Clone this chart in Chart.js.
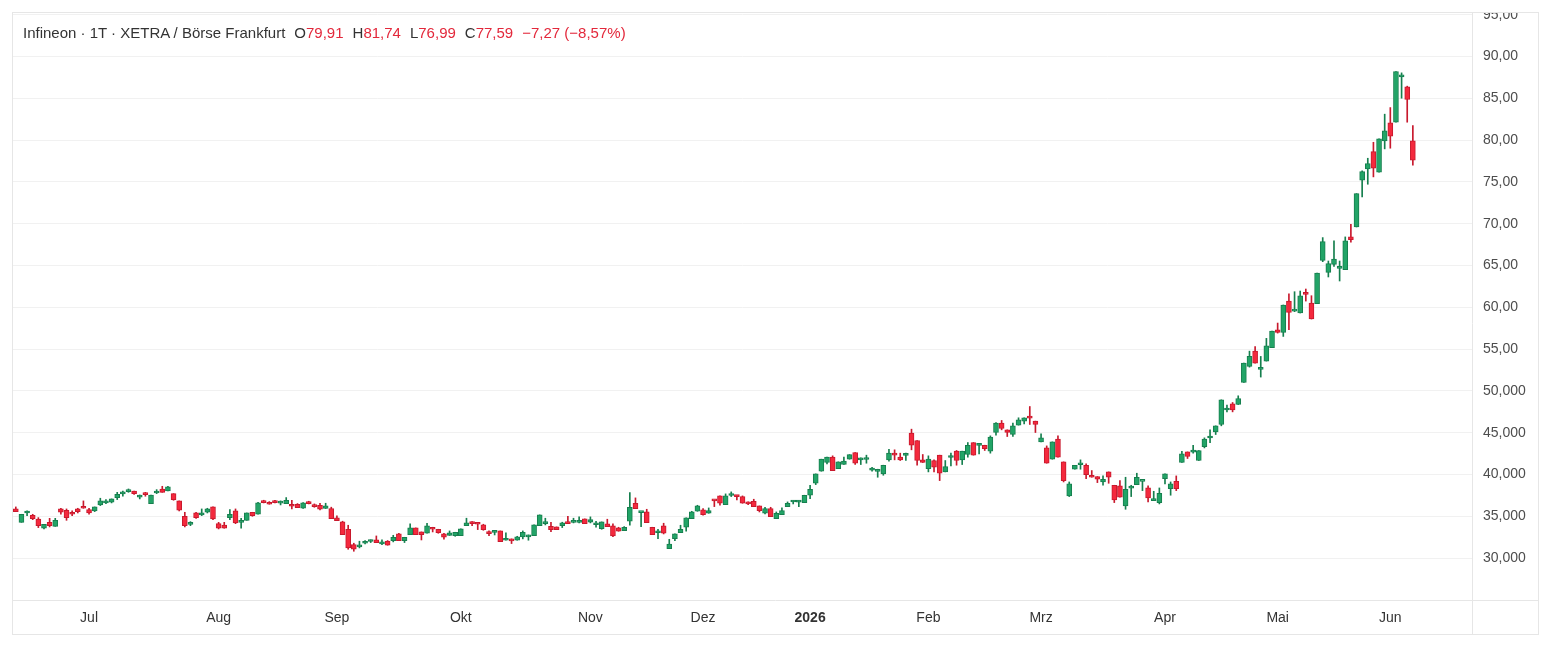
<!DOCTYPE html>
<html lang="de">
<head>
<meta charset="utf-8">
<title>Infineon · 1T · XETRA</title>
<script src="https://cdn.jsdelivr.net/npm/chart.js@4.4.1/dist/chart.umd.min.js"></script>
<style>
    html, body { margin: 0; padding: 0; background: #fff; }
    #frame {
        position: absolute; left: 12px; top: 12px;
        width: 1525px; height: 621px;
        border: 1px solid #e6e6e6;
    }
    #frame canvas { display: block; }
    #legend {
        position: absolute; left: 23px; top: 24px;
        font: 15px "Liberation Sans", Arial, sans-serif;
        color: #333; white-space: nowrap; line-height: 18px;
    }
    #legend .v { color: #e3283b; }
    #legend .g { margin-left: 9px; }
</style>
</head>
<body>
<div id="frame"><canvas id="chart" width="1525" height="621"></canvas></div>
<div id="legend">Infineon · 1T · XETRA / Börse Frankfurt<span class="g">O<span class="v">79,91</span></span><span class="g">H<span class="v">81,74</span></span><span class="g">L<span class="v">76,99</span></span><span class="g">C<span class="v">77,59</span></span><span class="g v">−7,27 (−8,57%)</span></div>
<script>
// trading calendar (Xetra), first and last session shown
const startDate = '2025-06-12';
const endDate = '2026-06-05';
const holidays = ['2025-12-24', '2025-12-25', '2025-12-26', '2025-12-31', '2026-01-01', '2026-04-03', '2026-04-06', '2026-05-01'];
const monthNames = ['2026', 'Feb', 'Mrz', 'Apr', 'Mai', 'Jun', 'Jul', 'Aug', 'Sep', 'Okt', 'Nov', 'Dez'];
const emptySlots = 10; // free space right of the last candle

// daily OHLC
const opens = [
    35.89, 34.29, 35.40, 35.13, 34.69, 33.58, 34.29, 33.81, 35.89, 35.73,
    35.49, 35.89, 36.21, 35.81, 35.65, 36.37, 36.61, 36.69, 37.25, 37.70,
    37.96, 38.04, 37.30, 37.64, 36.53, 37.80, 38.28, 38.04, 37.72, 36.85,
    35.01, 34.05, 35.41, 35.17, 35.49, 36.13, 34.13, 33.97, 34.85, 35.65,
    34.29, 34.53, 35.49, 35.25, 36.69, 36.69, 36.69, 36.58, 36.53, 36.45,
    36.45, 35.97, 36.57, 36.41, 36.33, 35.94, 35.94, 34.82, 34.34, 33.46,
    31.63, 31.35, 31.79, 32.00, 32.19, 31.71, 32.03, 32.11, 32.90, 32.11,
    32.82, 33.62, 33.14, 32.98, 33.70, 33.46, 32.90, 32.72, 32.70, 32.70,
    33.90, 34.16, 34.08, 33.98, 32.95, 33.08, 33.26, 32.15, 32.08, 32.15,
    32.55, 32.55, 32.70, 33.90, 34.14, 33.82, 33.74, 33.90, 34.14, 34.28,
    34.28, 34.70, 34.30, 34.00, 33.54, 34.10, 33.86, 33.62, 33.30, 34.42,
    36.57, 35.44, 35.53, 33.70, 33.04, 33.86, 31.14, 32.34, 33.06, 33.70,
    34.74, 35.61, 35.77, 35.37, 36.89, 37.45, 36.41, 37.50, 37.39, 37.37,
    36.50, 36.81, 36.25, 35.37, 35.93, 34.73, 35.21, 36.17, 36.72, 36.71,
    36.65, 37.53, 38.96, 40.40, 41.44, 42.08, 40.72, 41.20, 41.84, 42.63,
    41.75, 41.80, 40.54, 40.38, 40.08, 41.76, 42.34, 42.08, 42.30, 44.95,
    44.07, 41.76, 40.72, 41.68, 42.32, 40.32, 42.04, 42.80, 41.76, 42.40,
    43.83, 43.49, 43.51, 42.80, 45.03, 46.15, 45.35, 44.79, 45.91, 46.39,
    46.79, 46.39, 43.91, 43.19, 41.84, 44.23, 41.52, 37.45, 40.64, 41.18,
    41.12, 39.92, 39.76, 39.12, 40.32, 38.72, 38.64, 36.25, 38.38, 38.80,
    39.18, 38.40, 36.89, 36.65, 39.52, 38.32, 39.20, 41.44, 42.71, 42.69,
    41.68, 43.35, 44.37, 45.11, 45.99, 47.72, 48.46, 48.38, 51.01, 52.93,
    54.76, 52.59, 53.57, 55.17, 57.32, 57.00, 60.75, 59.55, 59.32, 61.79,
    60.51, 60.43, 65.62, 64.19, 65.14, 64.65, 64.51, 68.42, 69.61, 75.20,
    76.55, 78.63, 76.15, 79.90, 82.06, 82.14, 87.57, 86.37, 79.91
];
const highs = [
    36.13, 35.25, 35.65, 35.25, 34.85, 34.05, 34.77, 34.77, 35.97, 35.89,
    35.65, 35.97, 36.85, 35.97, 36.13, 37.17, 37.01, 37.09, 37.88, 38.04,
    38.28, 38.04, 37.56, 37.88, 37.56, 38.20, 38.60, 38.60, 37.72, 36.85,
    35.49, 34.37, 35.49, 35.89, 35.97, 36.13, 34.29, 34.29, 35.81, 35.89,
    34.77, 35.41, 35.49, 36.69, 36.93, 36.77, 36.93, 36.85, 37.25, 36.93,
    36.53, 36.65, 36.81, 36.49, 36.57, 36.57, 36.10, 35.06, 34.42, 33.94,
    31.79, 32.03, 32.11, 32.19, 32.66, 32.19, 32.11, 32.74, 32.98, 32.50,
    34.10, 33.62, 33.14, 34.18, 33.70, 33.46, 32.98, 33.26, 33.10, 33.50,
    34.78, 34.38, 34.14, 34.06, 33.26, 33.26, 33.26, 33.02, 32.31, 32.62,
    33.26, 32.78, 33.98, 35.18, 34.78, 34.30, 33.74, 34.30, 35.02, 34.78,
    34.94, 34.70, 34.94, 34.42, 34.34, 34.66, 34.10, 33.70, 33.78, 37.85,
    37.21, 35.45, 35.85, 33.70, 33.46, 34.18, 32.26, 32.90, 33.94, 34.82,
    35.61, 36.33, 35.93, 36.01, 36.97, 37.45, 37.69, 37.93, 37.53, 37.45,
    36.73, 37.05, 36.25, 36.09, 36.09, 35.53, 36.01, 36.73, 36.89, 36.89,
    37.53, 38.72, 40.08, 41.84, 42.08, 42.24, 41.52, 42.08, 42.39, 42.63,
    42.00, 42.32, 40.88, 40.64, 41.12, 43.03, 42.96, 42.56, 42.56, 45.43,
    44.07, 42.40, 42.24, 41.76, 42.32, 41.68, 42.56, 42.88, 42.80, 43.83,
    43.83, 43.67, 43.51, 44.63, 46.23, 46.47, 45.35, 46.15, 46.79, 46.79,
    48.14, 46.39, 44.87, 43.43, 43.91, 44.63, 41.52, 39.12, 41.12, 41.76,
    41.28, 40.48, 39.76, 39.84, 40.32, 38.72, 39.28, 39.68, 38.72, 40.16,
    39.20, 38.64, 38.00, 38.40, 40.08, 39.12, 39.84, 42.79, 42.71, 43.51,
    42.87, 44.39, 45.35, 45.83, 48.94, 48.30, 48.62, 49.42, 53.33, 54.76,
    55.32, 54.13, 56.29, 57.16, 58.12, 60.28, 61.63, 61.87, 61.95, 62.19,
    61.39, 64.11, 68.34, 65.54, 67.94, 65.54, 68.42, 69.93, 73.60, 76.31,
    77.83, 79.74, 80.14, 83.10, 83.89, 88.20, 88.04, 86.45, 81.74
];
const lows = [
    35.57, 34.29, 35.09, 34.61, 33.66, 33.50, 33.74, 33.81, 35.25, 34.53,
    35.09, 35.41, 35.97, 35.25, 35.57, 36.29, 36.53, 36.61, 37.01, 37.41,
    37.88, 37.64, 37.09, 37.41, 36.53, 37.72, 37.88, 38.04, 36.93, 35.65,
    33.74, 33.89, 34.77, 35.09, 35.41, 34.61, 33.50, 33.58, 34.61, 34.13,
    33.58, 34.53, 35.01, 35.25, 36.61, 36.45, 36.61, 36.37, 36.53, 35.89,
    36.05, 35.95, 36.49, 36.09, 35.78, 35.94, 34.74, 34.50, 32.82, 31.07,
    30.83, 31.23, 31.71, 31.87, 31.87, 31.63, 31.55, 31.95, 32.11, 31.87,
    32.82, 32.82, 32.18, 32.98, 33.14, 32.98, 32.26, 32.72, 32.62, 32.70,
    33.90, 33.90, 33.42, 33.34, 32.70, 32.78, 31.99, 32.15, 31.75, 32.15,
    32.31, 32.15, 32.70, 33.90, 33.98, 33.18, 33.42, 33.66, 34.13, 34.22,
    34.22, 34.14, 34.22, 33.70, 33.46, 33.78, 32.58, 33.22, 33.30, 33.94,
    35.93, 33.78, 34.26, 32.82, 32.34, 32.90, 31.14, 32.10, 33.06, 33.22,
    34.74, 35.61, 35.13, 35.37, 36.17, 36.33, 36.41, 37.37, 36.97, 36.57,
    36.41, 36.17, 35.53, 35.29, 34.97, 34.73, 35.21, 36.17, 36.49, 36.17,
    36.65, 37.13, 38.80, 40.40, 41.28, 40.48, 40.72, 41.20, 41.84, 41.20,
    41.20, 41.36, 40.40, 39.68, 39.92, 41.60, 41.76, 41.68, 41.68, 42.96,
    41.12, 41.44, 40.32, 40.32, 39.28, 40.32, 41.04, 41.12, 41.20, 42.08,
    42.32, 42.48, 42.88, 42.56, 44.71, 45.35, 44.55, 44.55, 45.91, 46.07,
    45.99, 45.03, 43.91, 41.36, 41.84, 42.08, 39.12, 37.37, 40.64, 40.64,
    39.52, 39.68, 39.04, 38.72, 38.96, 36.65, 37.29, 35.85, 37.37, 38.80,
    38.08, 36.73, 36.89, 36.49, 38.88, 37.53, 38.08, 41.44, 41.92, 42.56,
    41.68, 43.19, 43.83, 44.79, 45.83, 47.50, 47.50, 48.38, 51.01, 52.85,
    53.33, 51.66, 53.57, 55.17, 56.92, 56.52, 57.32, 59.48, 59.32, 60.75,
    58.60, 60.43, 65.46, 63.63, 64.90, 63.15, 64.51, 67.78, 69.61, 73.20,
    74.72, 75.60, 76.15, 78.95, 79.03, 82.14, 85.01, 82.14, 76.99
];
const closes = [
    35.57, 35.25, 35.43, 34.73, 33.89, 34.05, 33.89, 34.53, 35.49, 34.85,
    35.25, 35.57, 35.97, 35.41, 36.13, 36.85, 36.85, 37.09, 37.65, 37.72,
    38.20, 37.72, 37.33, 37.60, 37.56, 38.04, 37.88, 38.52, 37.01, 35.73,
    33.89, 34.29, 34.85, 35.41, 35.89, 34.69, 33.58, 33.58, 35.25, 34.21,
    34.33, 35.41, 35.09, 36.61, 36.65, 36.45, 36.65, 36.61, 36.93, 36.21,
    36.05, 36.61, 36.53, 36.17, 35.86, 36.25, 34.74, 34.50, 32.82, 31.23,
    31.07, 31.39, 32.03, 32.03, 31.87, 31.95, 31.55, 32.50, 32.11, 32.50,
    33.62, 32.82, 32.82, 33.86, 33.46, 33.06, 32.50, 33.04, 33.10, 33.50,
    34.22, 34.14, 34.06, 33.42, 32.94, 33.10, 31.99, 32.31, 32.07, 32.55,
    33.10, 32.57, 33.98, 35.18, 34.18, 33.42, 33.42, 34.22, 34.13, 34.30,
    34.30, 34.14, 34.62, 34.02, 34.34, 33.78, 32.66, 33.22, 33.70, 36.09,
    35.93, 35.45, 34.26, 32.82, 33.06, 32.98, 31.70, 32.90, 33.46, 34.82,
    35.53, 36.25, 35.21, 35.69, 36.85, 36.57, 37.45, 37.53, 37.37, 36.57,
    36.49, 36.17, 35.69, 35.93, 34.97, 35.37, 35.69, 36.57, 36.73, 36.73,
    37.53, 38.25, 40.08, 41.84, 42.08, 40.48, 41.52, 41.60, 42.39, 41.36,
    41.76, 41.84, 40.56, 40.40, 41.12, 42.56, 42.32, 41.76, 42.32, 43.51,
    41.68, 41.44, 41.84, 40.88, 40.16, 40.96, 42.08, 41.68, 42.80, 43.51,
    42.32, 43.51, 43.11, 44.47, 46.15, 45.51, 45.03, 45.83, 46.55, 46.79,
    46.75, 45.99, 44.39, 41.36, 43.91, 42.08, 39.28, 38.88, 41.12, 41.20,
    40.00, 39.68, 39.44, 39.44, 39.68, 36.97, 37.29, 38.24, 38.40, 39.68,
    39.20, 37.21, 37.13, 37.77, 40.08, 38.88, 38.32, 42.48, 42.16, 42.71,
    42.87, 44.23, 44.39, 45.83, 48.94, 47.74, 47.74, 49.10, 53.33, 54.13,
    53.33, 52.61, 55.41, 57.16, 57.00, 60.28, 59.40, 59.56, 61.39, 61.55,
    58.60, 64.11, 67.86, 65.22, 65.78, 64.66, 67.94, 68.10, 73.60, 76.23,
    77.19, 76.63, 80.14, 81.10, 80.46, 88.20, 87.81, 84.86, 77.59
];

// price axis, labels as printed on the chart
const yTickValues = [95, 90, 85, 80, 75, 70, 65, 60, 55, 50, 45, 40, 35, 30];
const yTickLabels = ['95,00', '90,00', '85,00', '80,00', '75,00', '70,00', '65,00', '60,00', '55,00', '50,000', '45,000', '40,000', '35,000', '30,000'];
const yMin = 25;
const yMax = 95.2;

const upFill = '#22a467', upLine = '#167f4e';
const downFill = '#f4293d', downLine = '#c8192d';
const gridColor = '#f1f1f1';
const frameColor = '#e6e6e6';
const fontFamily = '"Liberation Sans", Arial, sans-serif';

function isoDay(d) {
    return d.toISOString().slice(0, 10);
}

function tradingDays(from, to) {
    const days = [];
    const d = new Date(from + 'T00:00:00Z');
    const end = new Date(to + 'T00:00:00Z');
    while (d <= end) {
        const wd = d.getUTCDay();
        if (wd !== 0 && wd !== 6 && !holidays.includes(isoDay(d))) days.push(isoDay(d));
        d.setUTCDate(d.getUTCDate() + 1);
    }
    return days;
}

const dates = tradingDays(startDate, endDate);
const labels = dates.concat(new Array(emptySlots).fill(''));

// month label on the first session of each month
const monthTicks = labels.map((day, i) => {
    if (!day || i === 0) return null;
    const m = +day.slice(5, 7);
    if (m === +dates[i - 1].slice(5, 7)) return null;
    return monthNames[m - 1];
});

const up = opens.map((o, i) => closes[i] >= o);
const bodies = opens.map((o, i) => [o, closes[i]]);
const wicks = lows.map((l, i) => [l, highs[i]]);

const frameLines = {
    id: 'frameLines',
    afterDraw(chart) {
        const { ctx, chartArea, width, height } = chart;
        const x = Math.round(chartArea.right) + 0.5;
        const y = Math.round(chartArea.bottom) + 0.5;
        ctx.save();
        ctx.strokeStyle = frameColor;
        ctx.lineWidth = 1;
        ctx.beginPath();
        ctx.moveTo(x, 0); ctx.lineTo(x, height);
        ctx.moveTo(0, y); ctx.lineTo(width, y);
        ctx.stroke();
        ctx.restore();
    }
};

new Chart(document.getElementById('chart').getContext('2d'), {
    type: 'bar',
    data: {
        labels: labels,
        datasets: [{
            label: 'Körper',
            data: bodies,
            backgroundColor: up.map(u => u ? upFill : downFill),
            borderColor: up.map(u => u ? upLine : downLine),
            borderWidth: 1,
            borderSkipped: false,
            barThickness: 5,
            minBarLength: 2,
            grouped: false,
            order: 0
        }, {
            label: 'Docht',
            data: wicks,
            backgroundColor: up.map(u => u ? upLine : downLine),
            borderWidth: 0,
            barThickness: 1,
            grouped: false,
            order: 1
        }]
    },
    options: {
        responsive: false,
        animation: false,
        devicePixelRatio: 1,
        layout: { padding: 0 },
        plugins: {
            legend: { display: false },
            tooltip: { enabled: false }
        },
        scales: {
            x: {
                type: 'category',
                offset: true,
                border: { display: false },
                grid: {
                    offset: false,
                    drawTicks: false,
                    color: ctx => monthTicks[ctx.index] ? gridColor : 'rgba(0,0,0,0)'
                },
                ticks: {
                    autoSkip: false,
                    maxRotation: 0,
                    minRotation: 0,
                    padding: 10,
                    color: '#333',
                    font: ctx => ({
                        family: fontFamily,
                        size: 14,
                        weight: ctx.tick && ctx.tick.label === '2026' ? 'bold' : 'normal'
                    }),
                    callback: (value, index) => monthTicks[index]
                },
                afterFit: scale => {
                    scale.height = 34;
                    scale.paddingLeft = 0;
                    scale.paddingRight = 0;
                }
            },
            y: {
                position: 'right',
                min: yMin,
                max: yMax,
                border: { display: false },
                grid: {
                    drawTicks: false,
                    color: ctx => ctx.tick && ctx.tick.value > yMin ? gridColor : 'rgba(0,0,0,0)'
                },
                ticks: {
                    stepSize: 5,
                    includeBounds: false,
                    padding: 11,
                    color: '#4d4d4d',
                    font: { family: fontFamily, size: 14 },
                    callback: value => {
                        const k = yTickValues.indexOf(Math.round(value));
                        return k < 0 ? null : yTickLabels[k];
                    }
                },
                afterFit: scale => {
                    scale.width = 66;
                    scale.paddingTop = 0;
                    scale.paddingBottom = 0;
                }
            }
        }
    },
    plugins: [frameLines]
});
</script>
</body>
</html>
